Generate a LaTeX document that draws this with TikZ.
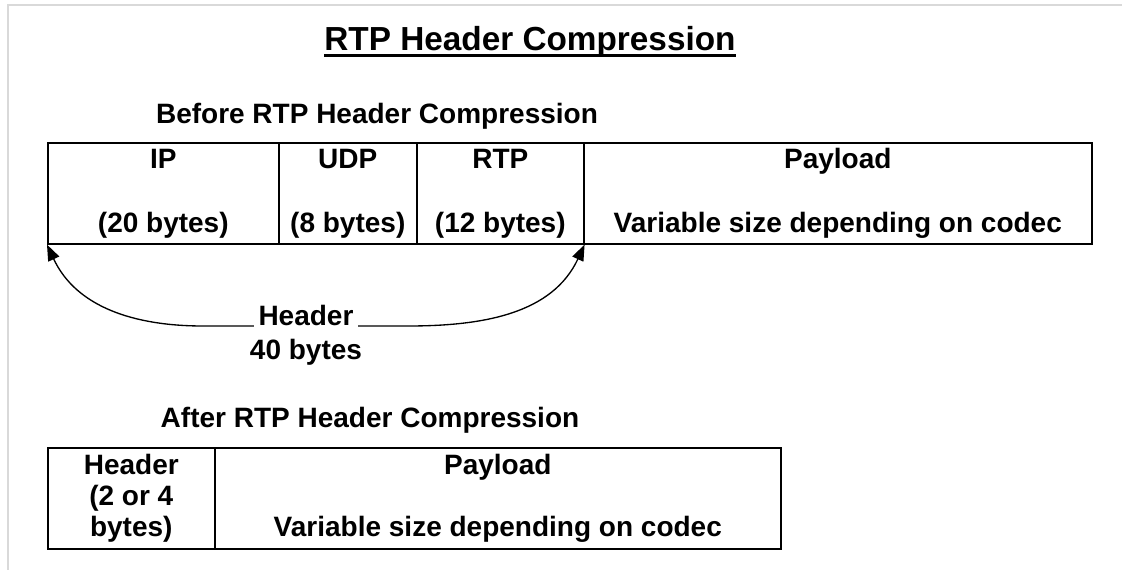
\documentclass[tikz,border=0pt]{standalone}
\usepackage{fontspec}
\setmainfont{Liberation Sans}
\usetikzlibrary{arrows.meta}

\begin{document}
\begin{tikzpicture}[x=0.75pt, y=0.75pt,
  cell/.style={draw, line width=1.2pt, inner sep=0pt, anchor=north west,
    minimum height=101*0.75pt, align=center,
    font=\bfseries\fontsize{21}{23}\selectfont},
  lbl/.style={font=\bfseries\fontsize{21}{23}\selectfont},
  span/.style={line width=1pt, -{Triangle[length=12pt, width=9pt]}}]
  \useasboundingbox (0,0) rectangle (1122,-570);
  \draw [black!15, line width=1.5pt] (8,-570) -- (8,-5) -- (1122,-5);
  % title
  \node [font=\bfseries\fontsize{25}{30}\selectfont, inner sep=0pt, anchor=base] (T) at (530,-51) {RTP Header Compression};
  \draw [line width=2.2pt] ([yshift=-3.5pt]T.base west) -- ([yshift=-3.5pt]T.base east);
  % before
  \node [lbl] (BF) at (377,-116) {Before RTP Header Compression};
  \node [cell, minimum width=231*0.75pt] (IP) at (47,-142) {IP\\[25pt](20 bytes)};
  \node [cell, minimum width=138*0.75pt] (UDP) at (278,-142) {UDP\\[25pt](8 bytes)};
  \node [cell, minimum width=167*0.75pt] (RTP) at (416,-142) {RTP\\[25pt](12 bytes)};
  \node [cell, minimum width=508*0.75pt] (PL) at (583,-142) {Payload\\[25pt]Variable size depending on codec};
  \node [lbl, anchor=base] (H) at (306,-326) {Header};
  \node [lbl] (HB) at (306,-352) {40 bytes};
  \coordinate (LB) at (203,-326);
  \coordinate (RB) at (408,-326);
  \draw [span] (H.base west) -- (LB) to [out=180, in=-65] (IP.south west);
  \draw [span] (H.base east) -- (RB) to [out=0, in=-115] (RTP.south east);
  % after
  \node [lbl] (AF) at (370,-420) {After RTP Header Compression};
  \node [cell, minimum width=167*0.75pt] (HC) at (47,-447) {Header\\(2 or 4\\bytes)};
  \node [cell, minimum width=566*0.75pt] (PLC) at (214,-447) {Payload\\[23pt]Variable size depending on codec};
\end{tikzpicture}
\end{document}
